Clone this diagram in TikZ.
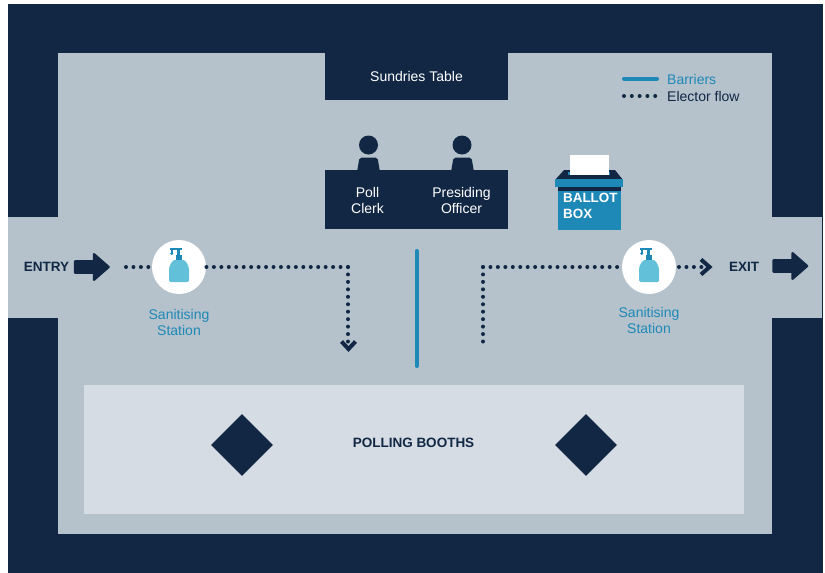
\documentclass[tikz,border=0pt]{standalone}
\usepackage{fontspec}
\setmainfont{Liberation Sans}
\usetikzlibrary{shapes.geometric}
\definecolor{navy}{HTML}{112744}
\definecolor{wall}{HTML}{B5C2CC}
\definecolor{booth}{HTML}{D5DCE3}
\definecolor{teal}{HTML}{1E88B6}
\definecolor{soap}{HTML}{62C1D8}
\tikzset{
  x=1pt,y=-1pt,
  lab/.style={inner sep=0pt,align=center,font=\fontsize{14}{16}\selectfont},
  whitelab/.style={lab,text=white},
  navylab/.style={lab,text=navy},
  bold/.style={font=\fontsize{13.5}{16}\selectfont\bfseries},
  teallab/.style={lab,text=teal},
  flow/.style={draw=navy,line width=4pt,line cap=round,dash pattern=on 0pt off 7.45pt},
  barrier/.style={draw=teal,line width=4pt,line cap=round},
  chev/.style={draw=navy,line width=4pt,line cap=butt,miter limit=10},
  blockarrow/.style={fill=navy,draw=navy,line width=2.5pt,line join=round},
  station/.style={circle,fill=white,minimum size=54pt,inner sep=0pt},
  head/.style={circle,fill=navy,minimum size=19pt,inner sep=0pt},
  bdiam/.style={diamond,fill=navy,minimum width=62pt,minimum height=62pt,inner sep=0pt},
}
\newcommand{\bottle}[2]{%
  \fill[soap,rounded corners=1.5pt] (#1-10,#2+15) -- (#1-10,#2+4) .. controls (#1-10,#2-2) and (#1-6,#2-7) .. (#1-3,#2-7) -- (#1+3,#2-7) .. controls (#1+6,#2-7) and (#1+10,#2-2) .. (#1+10,#2+4) -- (#1+10,#2+15) -- cycle;
  \fill[teal] (#1-3,#2-12) rectangle (#1+3,#2-7);
  \fill[teal] (#1-2,#2-18) rectangle (#1+1,#2-12);
  \fill[teal] (#1-9,#2-19) rectangle (#1+3,#2-17);
  \fill[teal] (#1-8,#2-17) rectangle (#1-6,#2-14);
  \fill[teal] (#1-7.3,#2-13.5) circle (1.6);
}
\newcommand{\barrow}[2]{%
  \path[blockarrow] (#1+0.5,#2-5.7) -- (#1+19.5,#2-5.7) -- (#1+19.5,#2-12.7) -- (#1+34,#2) -- (#1+19.5,#2+12.7) -- (#1+19.5,#2+5.7) -- (#1+0.5,#2+5.7) -- cycle;
}
\begin{document}
\begin{tikzpicture}
\useasboundingbox (0,0) rectangle (825,573);
\fill[white] (0,0) rectangle (825,573);
\fill[navy] (8,4) rectangle (823,573);
\fill[wall] (58,53) rectangle (772,534);
\fill[wall] (8,217) rectangle (822,318);
% tables
\node[fill=navy,minimum width=183pt,minimum height=47pt,inner sep=0pt,anchor=north west] (sundries) at (325,53) {};
\node[whitelab] (sundrieslab) at (416.5,76.5) {Sundries Table};
\node[head] (clerkhead) at (368.5,145) {};
\node[head] (officerhead) at (462,145) {};
\fill[navy,rounded corners=2pt] (357,172) -- (359.5,157.5) -- (377.5,157.5) -- (380,172) -- cycle;
\fill[navy,rounded corners=2pt] (451,172) -- (453.5,157.5) -- (471.5,157.5) -- (474,172) -- cycle;
\node[fill=navy,minimum width=183pt,minimum height=59pt,inner sep=0pt,anchor=north west] (desk) at (325,170) {};
\node[whitelab] (clerk) at (367.5,200.5) {Poll\\Clerk};
\node[whitelab] (officer) at (461.5,200.5) {Presiding\\Officer};
% ballot box
\fill[navy] (555,180) -- (564,170) -- (615,170) -- (623,180) -- cycle;
\fill[teal] (568,172) rectangle (610,175);
\node[fill=white,minimum width=39pt,minimum height=20pt,inner sep=0pt,anchor=north west] (paper) at (570,155) {};
\fill[teal] (555,179) rectangle (623,187);
\fill[navy] (558,187) rectangle (621,191);
\node[fill=teal,minimum width=63pt,minimum height=39pt,inner sep=0pt,anchor=north west] (box) at (558,191) {};
\node[text=white,inner sep=0pt,align=left,anchor=north west,font=\fontsize{13.4}{16}\selectfont\bfseries] (boxlab) at (563,193) {BALLOT\\BOX};
% legend
\coordinate (b1) at (624,78.5);
\coordinate (b2) at (657,78.5);
\draw[barrier] (b1) -- (b2);
\node[teallab,anchor=west] (barrierslab) at (667,79.5) {Barriers};
\coordinate (f1) at (624,96);
\coordinate (f2) at (659,96);
\draw[flow,dash pattern=on 0pt off 7.8pt] (f1) -- (f2);
\node[navylab,anchor=west] (flowlab) at (667,96.5) {Elector flow};
% entry
\node[navylab,bold] (entry) at (46.5,267) {ENTRY};
\barrow{74.5}{267}
\node[station] (st1) at (179,267) {};
\bottle{179}{267}
\node[teallab] (st1lab) at (179,322.5) {Sanitising\\Station};
\coordinate (e0) at (126,267);
\draw[flow] (e0) -- (st1);
\coordinate (c1) at (348,267);
\coordinate (e1) at (348,342);
\draw[flow] (c1) -- (st1.east);
\draw[flow] (c1) -- (e1);
\draw[chev] (341.5,341.5) -- (348.5,349) -- (355.5,341.5);
% barrier
\coordinate (bar1) at (416.5,251);
\coordinate (bar2) at (416.5,366);
\draw[barrier] (bar1) -- (bar2);
% exit
\coordinate (x0) at (483,347);
\coordinate (c2) at (483,267);
\node[station] (st2) at (649,267) {};
\bottle{649}{267}
\node[teallab] (st2lab) at (649,320.5) {Sanitising\\Station};
\draw[flow] (c2) -- (x0);
\draw[flow] (c2) -- (st2.west);
\coordinate (x1) at (703,267);
\coordinate (x2) at (679,267);
\draw[flow] (x2) -- (x1);
\draw[chev] (701,259.5) -- (709.5,267) -- (701,274.5);
\node[navylab,bold] (exit) at (744,266.5) {EXIT};
\barrow{773}{266}
% booths
\node[fill=booth,minimum width=660pt,minimum height=129pt,inner sep=0pt,anchor=north west] (booths) at (84,385) {};
\node[navylab,bold] (boothlab) at (413.5,442.5) {POLLING BOOTHS};
\node[bdiam] (d1) at (242,445) {};
\node[bdiam] (d2) at (586,445) {};
\end{tikzpicture}
\end{document}
